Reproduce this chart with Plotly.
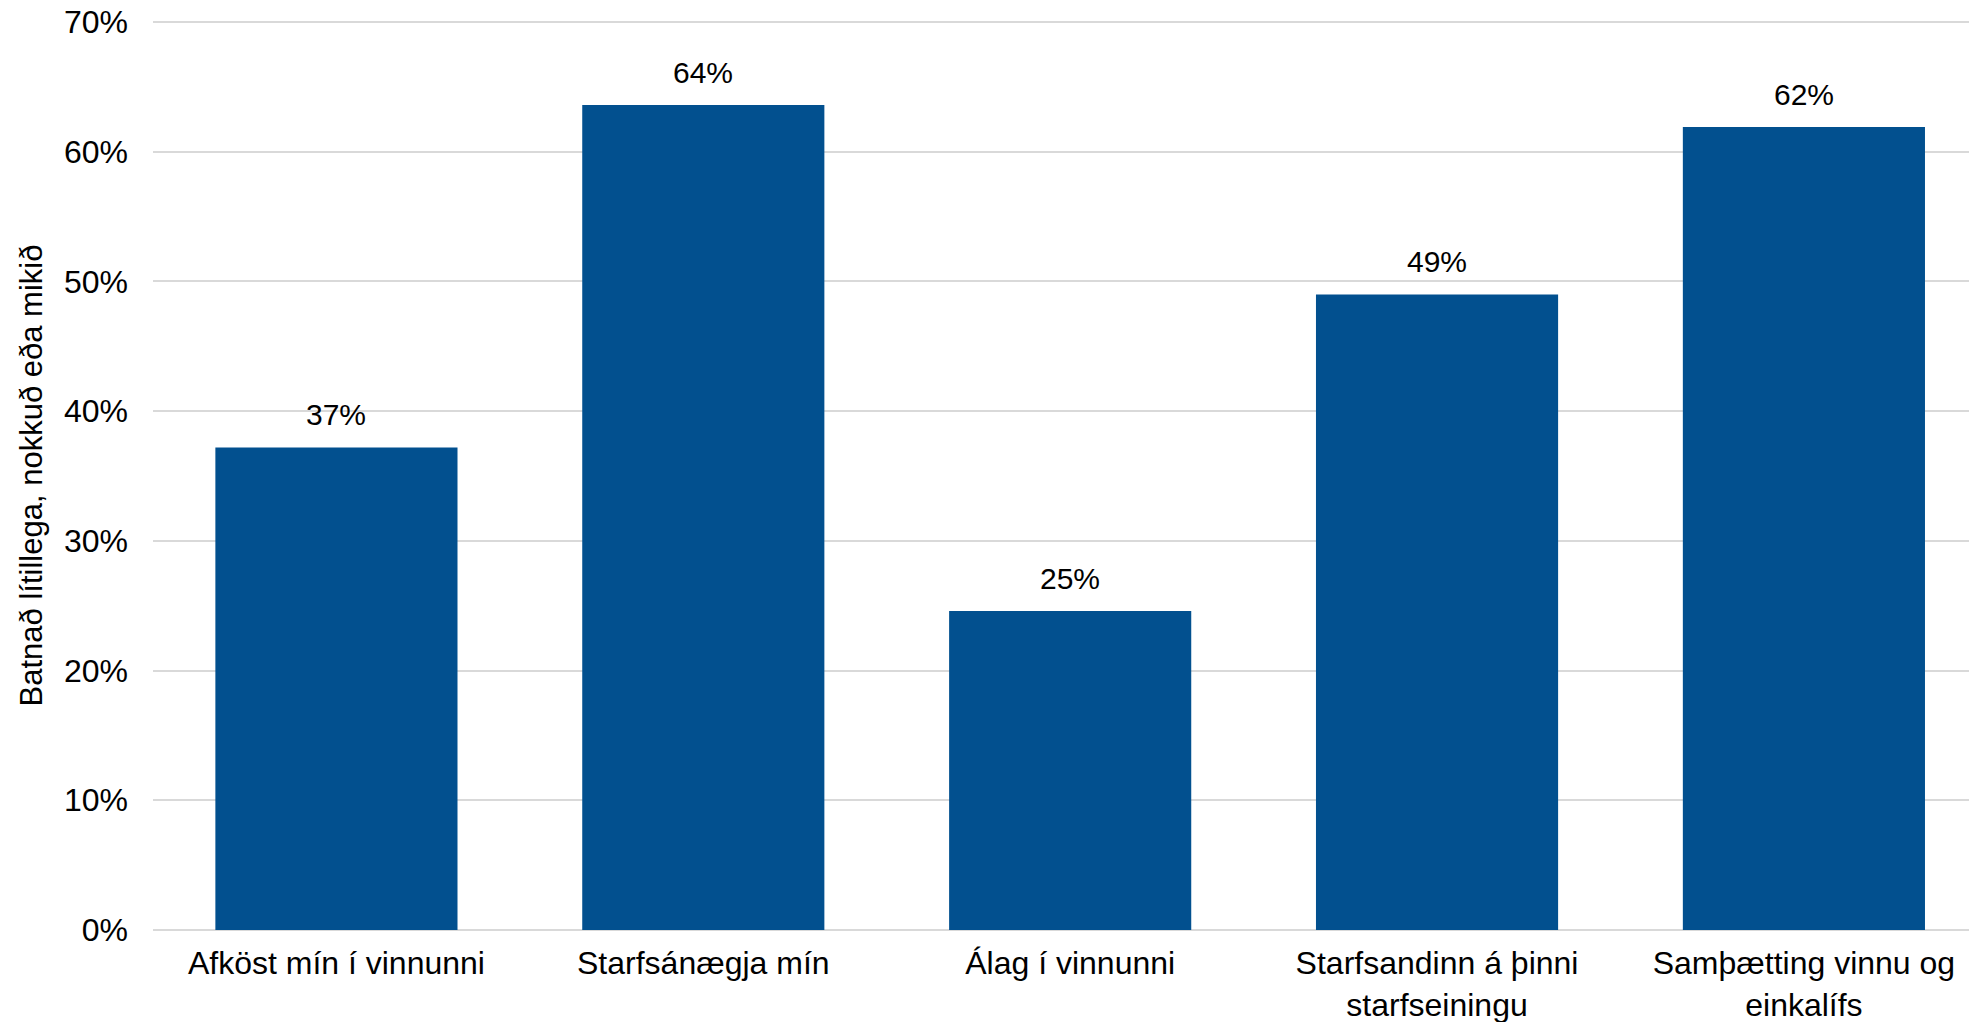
import plotly.graph_objects as go

categories = [
    "Afköst mín í vinnunni",
    "Starfsánægja mín",
    "Álag í vinnunni",
    "Starfsandinn á þinni<br>starfseiningu",
    "Samþætting vinnu og<br>einkalífs",
]
values = [0.372, 0.636, 0.246, 0.490, 0.619]
y_ticks = [0, 0.1, 0.2, 0.3, 0.4, 0.5, 0.6, 0.7]
y_title = "Batnað lítillega, nokkuð eða mikið"

bar_color = "#02508F"
font_family = "Liberation Sans, Arial, sans-serif"

fig = go.Figure()
fig.add_trace(go.Bar(x=categories, y=values, marker=dict(color=bar_color, line=dict(width=0)),
                     hoverinfo="skip"))

# value labels above bars
for c, v in zip(categories, values):
    fig.add_annotation(x=c, y=v, text=f"{v:.0%}", showarrow=False, yanchor="bottom",
                       yshift=14, font=dict(size=30, color="black", family=font_family))

fig.update_layout(
    width=1969, height=1022,
    margin=dict(l=153, r=0, t=21, b=92),
    plot_bgcolor="white", paper_bgcolor="white",
    bargap=0.34, showlegend=False,
    font=dict(family=font_family, color="black", size=32),
)
fig.update_xaxes(range=[-0.5, 4.45], showgrid=False, showline=False, ticks="",
                 tickfont=dict(size=32), ticklabelstandoff=11, automargin=False)
fig.update_yaxes(range=[0, 0.7008], tickvals=y_ticks, tickformat=".0%", showgrid=True,
                 gridcolor="#d9d9d9", gridwidth=2, zeroline=True, zerolinecolor="#d9d9d9",
                 zerolinewidth=2, showline=False, ticks="", ticklabelstandoff=24,
                 tickfont=dict(size=32), automargin=False,
                 title=dict(text=y_title, font=dict(size=31), standoff=12))

# drop the default page margin so the figure sits flush with the window
fig.write_html("out.html", config={"displayModeBar": False},
               post_script="document.body.style.margin='0';")
